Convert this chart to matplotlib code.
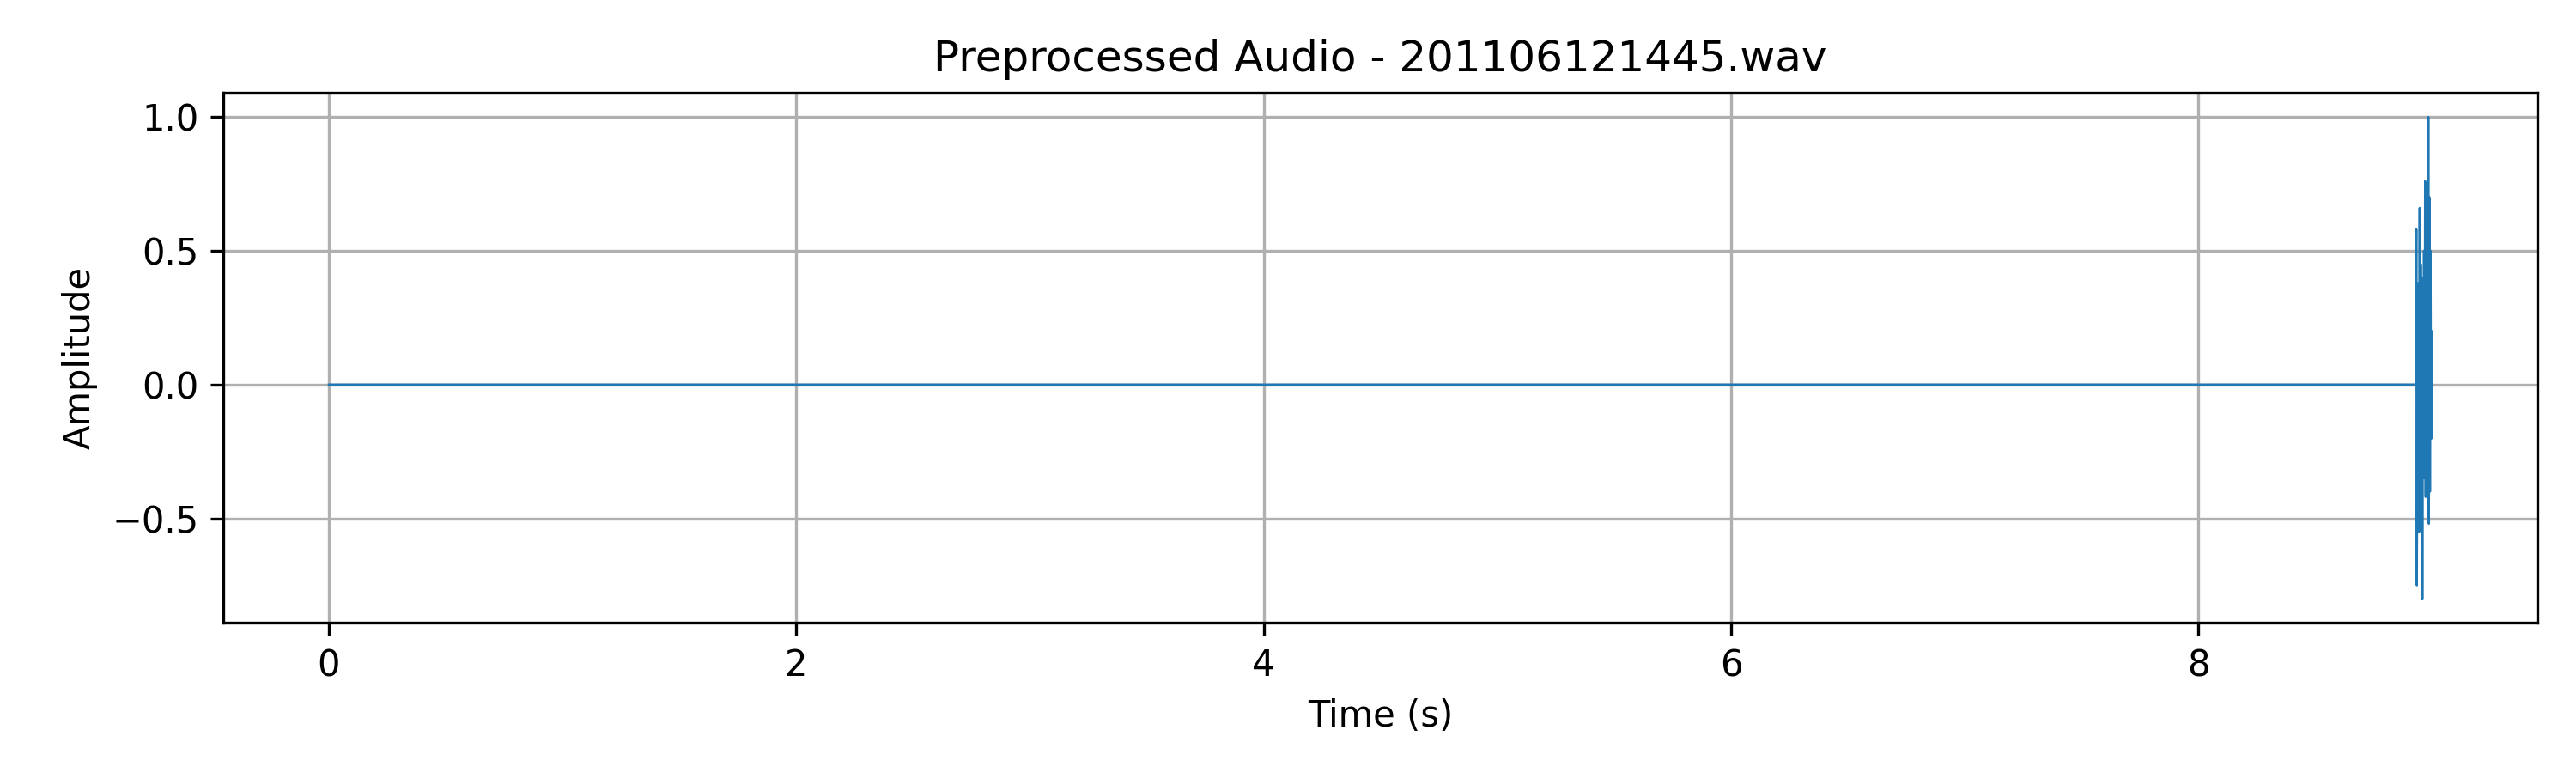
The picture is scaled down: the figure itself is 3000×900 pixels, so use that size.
import numpy as np
import matplotlib
matplotlib.use("Agg")
import matplotlib.pyplot as plt

file_name = "201106121445.wav"

# silent part (start, end of silence)
silence_times = [0.0, 8.93]
silence_values = [0.0, 0.0]

# burst samples
burst_values = [0.0, 0.58, -0.75, 0.3, -0.3, 0.38, -0.55, 0.66, -0.5, 0.45, -0.45,
                0.4, -0.8, 0.25, -0.2, 0.5, -0.35, 0.76, -0.42, 0.6, -0.3, 0.72,
                -0.25, 1.0, -0.52, 0.7, -0.4, 0.5, -0.2, 0.2, -0.2]
burst_start, burst_end = 8.93, 9.0

burst_times = np.linspace(burst_start, burst_end, len(burst_values))
times = np.concatenate([silence_times, burst_times])
values = np.concatenate([silence_values, burst_values])

fig, ax = plt.subplots(figsize=(10, 3), dpi=300)
ax.plot(times, values, linewidth=0.6, color="#1f77b4")
ax.set_title(f"Preprocessed Audio - {file_name}")
ax.set_xlabel("Time (s)")
ax.set_ylabel("Amplitude")
ax.grid(True)
fig.tight_layout()
fig.savefig("out.png")
